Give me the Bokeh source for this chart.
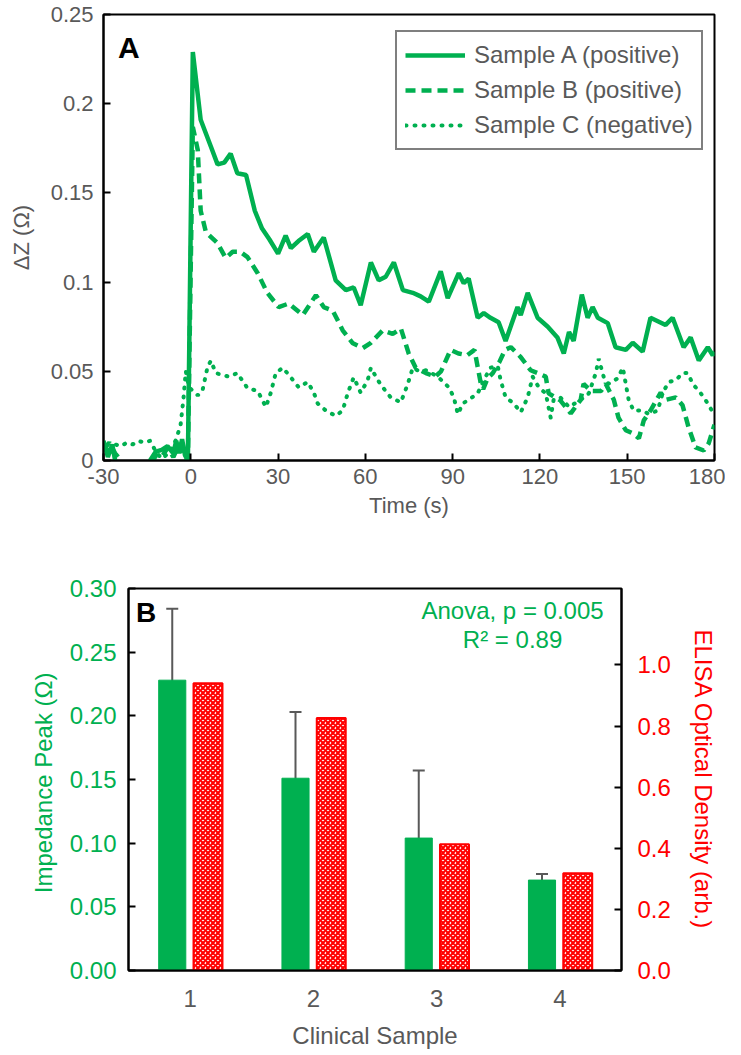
from bokeh.plotting import figure
from bokeh.models import (Range1d, LinearAxis, FixedTicker, Label, Whisker, TeeHead,
                          ColumnDataSource)
from bokeh.embed import file_html
from bokeh.resources import INLINE

GREEN = "#00B050"
RED = "#FF0000"
GRAY = "#595959"
FONT = "Liberation Sans"

# ---------------- Panel A data ----------------
t_a = [-30, -28.5, -27, -26, -24, -20, -16, -14, -12, -10, -8, -6, -5, -4, -3, -2, -1.0,
       0.7, 3.4, 6.9, 9.2, 11.5, 13.7, 16, 19, 22, 24.5, 27, 30, 32.6, 34.4, 37, 40.2, 42.3,
       45.7, 49.8, 53.3, 56, 58.4, 61.9, 64.6, 67, 69.8, 72.9, 76.3, 79, 81.8, 85.9, 88.3,
       92.1, 93.8, 95.5, 98.6, 100.7, 103, 105.8, 108.2, 112.3, 113.4, 115.8, 119.2, 122.7,
       126, 128.2, 130, 131.6, 134.4, 136.4, 138.1, 139.9, 143.3, 146, 149.5, 151.9, 155.3,
       158, 163.2, 165.6, 169.4, 171.8, 174.6, 177.7, 179.4, 180]
a_vals = [0.011, 0.002, 0.009, 0.0, -0.01, -0.015, -0.008, 0.0, 0.005, 0.006, 0.008, 0.004,
          0.011, 0.004, 0.012, 0.003, 0.0,
          0.229, 0.191, 0.176, 0.166, 0.167, 0.172, 0.161, 0.160, 0.140, 0.130, 0.124, 0.116,
          0.126, 0.119, 0.123, 0.127, 0.117, 0.125, 0.101, 0.0955, 0.097, 0.087, 0.111, 0.101,
          0.103, 0.111, 0.0955, 0.094, 0.092, 0.089, 0.106, 0.091, 0.105, 0.0994, 0.102, 0.080,
          0.0826, 0.080, 0.0775, 0.067, 0.086, 0.0815, 0.094, 0.080, 0.075, 0.069, 0.060, 0.072,
          0.067, 0.093, 0.080, 0.086, 0.080, 0.077, 0.0635, 0.062, 0.066, 0.061, 0.080, 0.076,
          0.080, 0.0635, 0.069, 0.056, 0.0635, 0.059, 0.061]

t_b = [-30, -28, -26, -24, -22, -18, -14, -12, -10, -8, -6, -4, -2, -1.0,
       0.7, 2.4, 3.4, 5.2, 9.1, 12, 14.4, 17, 19.5, 23, 26.3, 30.2, 33.7, 38.5, 43, 45.7, 48.8,
       52.2, 55.7, 59.1, 61.9, 66, 69.4, 72.2, 74.9, 77.3, 80.8, 84, 86, 89.3, 92, 95, 97.5,
       99.7, 100.5, 102, 103.8, 106, 108, 110, 113.4, 116.8, 119.2, 122, 123, 127, 130.6, 134,
       135, 137.5, 141, 142.6, 145.4, 147, 149.5, 151.9, 154, 155.7, 158, 161.5, 163.2, 166.7,
       169, 171.1, 173.5, 176.3, 178, 179.7, 180]
b_vals = [0.006, 0.010, 0.004, 0.0, -0.008, -0.01, -0.004, 0.003, 0.002, 0.007, 0.002, 0.009,
          0.002, 0.0,
          0.187, 0.174, 0.140, 0.128, 0.122, 0.1135, 0.117, 0.117, 0.114, 0.105, 0.094, 0.086,
          0.088, 0.0815, 0.0927, 0.086, 0.084, 0.073, 0.0657, 0.063, 0.066, 0.073, 0.071, 0.074,
          0.060, 0.052, 0.049, 0.047, 0.050, 0.062, 0.060, 0.059, 0.062, 0.043, 0.040, 0.046,
          0.049, 0.055, 0.062, 0.0635, 0.058, 0.0506, 0.049, 0.047, 0.0376, 0.0337, 0.0264,
          0.034, 0.043, 0.039, 0.039, 0.043, 0.034, 0.024, 0.017, 0.0152, 0.0124, 0.0225, 0.028,
          0.038, 0.034, 0.0354, 0.031, 0.0185, 0.0073, 0.0056, 0.0096, 0.0185, 0.020]

t_c = [-30, -28, -26, -24, -22, -20, -18, -16, -14, -12, -10, -7, -5, -3.5, -2.5, -1.7, -0.6,
       2.4, 4, 5.7, 6.9, 8.6, 13.1, 16, 19.5, 23, 25.8, 27.5, 29.2, 31.6, 33.7, 37.1, 40.2,
       42.3, 43.6, 46.4, 49.8, 52.2, 54, 56, 58.4, 60.8, 61.9, 64.3, 66, 68.7, 72.2, 74.6,
       76.3, 78.5, 80.8, 84.9, 88.7, 90.4, 91.8, 93.5, 95.5, 98.6, 100.7, 103, 105.5, 106.5,
       108.2, 111, 113.4, 115.8, 117.5, 119.6, 122, 123.7, 124.7, 127, 130, 134, 136.8, 139.2,
       140.2, 141.9, 143.6, 146.7, 148.5, 149.5, 150.5, 152.2, 155.3, 157.4, 160.5, 162.2,
       164.3, 166.7, 169, 170.8, 172.5, 175.3, 177.7, 179.4, 180]
c_vals = [0.010, 0.006, 0.009, 0.008, 0.010, 0.009, 0.011, 0.010, 0.011, 0.005, 0.001, 0.005,
          0.012, 0.020, 0.035, 0.050, 0.041,
          0.0365, 0.039, 0.052, 0.056, 0.049, 0.047, 0.049, 0.0405, 0.039, 0.030, 0.038, 0.049,
          0.052, 0.048, 0.041, 0.044, 0.038, 0.032, 0.028, 0.025, 0.028, 0.038, 0.0466, 0.038,
          0.045, 0.052, 0.045, 0.041, 0.0354, 0.0326, 0.043, 0.052, 0.050, 0.0506, 0.047, 0.041,
          0.0354, 0.026, 0.032, 0.034, 0.0376, 0.045, 0.052, 0.053, 0.045, 0.0354, 0.032, 0.027,
          0.0354, 0.047, 0.041, 0.0376, 0.024, 0.034, 0.0354, 0.030, 0.034, 0.0376, 0.049,
          0.057, 0.047, 0.043, 0.046, 0.052, 0.043, 0.034, 0.028, 0.028, 0.026, 0.028, 0.038,
          0.044, 0.045, 0.049, 0.049, 0.043, 0.0376, 0.032, 0.027, 0.026]

x_ticks_a = [-30, 0, 30, 60, 90, 120, 150, 180]
x_labels_a = ["-30", "0", "30", "60", "90", "120", "150", "180"]
y_ticks_a = [0, 0.05, 0.1, 0.15, 0.2, 0.25]
y_labels_a = ["0", "0.05", "0.1", "0.15", "0.2", "0.25"]

# ---------------- Panel B data ----------------
samples = [1, 2, 3, 4]
impedance = [0.228, 0.151, 0.104, 0.071]
impedance_err = [0.056, 0.052, 0.053, 0.0047]
elisa = [0.94, 0.826, 0.413, 0.318]
y_ticks_b = [0.0, 0.05, 0.10, 0.15, 0.20, 0.25, 0.30]
y_labels_b = ["0.00", "0.05", "0.10", "0.15", "0.20", "0.25", "0.30"]
y2_ticks_b = [0.0, 0.2, 0.4, 0.6, 0.8, 1.0]
y2_labels_b = ["0.0", "0.2", "0.4", "0.6", "0.8", "1.0"]


def style_axis(ax, color, size):
    ax.axis_line_color = "black"
    ax.axis_line_width = 2
    ax.major_tick_line_color = "black"
    ax.major_tick_line_width = 2
    ax.major_tick_in = 7
    ax.major_tick_out = 0
    ax.minor_tick_line_color = None
    ax.major_label_text_font = FONT
    ax.major_label_text_color = color
    ax.major_label_text_font_size = size
    ax.axis_label_text_font = FONT
    ax.axis_label_text_font_style = "normal"
    ax.axis_label_text_color = color
    ax.axis_label_text_font_size = size


# ---------------- Figure A ----------------
p1 = figure(width=725, height=520, x_range=Range1d(-30, 180), y_range=Range1d(0, 0.25),
            output_backend="svg", toolbar_location=None,
            min_border_left=103, min_border_right=11, min_border_top=14, min_border_bottom=60)
p1.grid.grid_line_color = None
p1.outline_line_color = "black"
p1.outline_line_width = 2
p1.background_fill_color = "white"

p1.line(t_a, a_vals, line_color=GREEN, line_width=4.5, legend_label="Sample A (positive)")
p1.line(t_b, b_vals, line_color=GREEN, line_width=4.5, line_dash="10 6",
        legend_label="Sample B (positive)")
p1.line(t_c, c_vals, line_color=GREEN, line_width=4, line_dash="1 8", line_cap="round",
        legend_label="Sample C (negative)")

p1.xaxis.ticker = FixedTicker(ticks=x_ticks_a)
p1.xaxis.major_label_overrides = {t: l for t, l in zip(x_ticks_a, x_labels_a)}
p1.yaxis.ticker = FixedTicker(ticks=y_ticks_a)
p1.yaxis.major_label_overrides = {t: l for t, l in zip(y_ticks_a, y_labels_a)}
p1.xaxis.axis_label = "Time (s)"
p1.yaxis.axis_label = "ΔZ (Ω)"
style_axis(p1.xaxis[0], GRAY, "22px")
style_axis(p1.yaxis[0], GRAY, "22px")
p1.xaxis.major_label_standoff = 8
p1.xaxis.axis_label_standoff = 6
p1.yaxis.major_label_standoff = 10
p1.yaxis.axis_label_standoff = 14

lg = p1.legend[0]
lg.location = (292, 310)
lg.padding = 8
lg.spacing = 5
lg.label_height = 30
lg.glyph_width = 60
lg.glyph_height = 20
lg.label_standoff = 9
lg.label_text_font = FONT
lg.label_text_font_size = "24px"
lg.label_text_color = GRAY
lg.border_line_color = "black"
lg.border_line_width = 2
lg.background_fill_alpha = 1.0

p1.add_layout(Label(x=-25, y=0.2405, text="A", text_font=FONT, text_font_style="bold",
                    text_font_size="30px", text_baseline="top", text_align="left",
                    text_color="black"))

# ---------------- Figure B ----------------
p2 = figure(width=725, height=531, x_range=Range1d(0.5, 4.5), y_range=Range1d(0, 0.30),
            output_backend="svg", toolbar_location=None,
            min_border_left=128, min_border_right=104, min_border_top=68, min_border_bottom=81)
p2.extra_y_ranges = {"elisa": Range1d(0, 1.25)}
p2.grid.grid_line_color = None
p2.outline_line_color = "black"
p2.outline_line_width = 2

xg = [s - 0.145 for s in samples]
xr = [s + 0.145 for s in samples]
src = ColumnDataSource(dict(xg=xg, xr=xr, imp=impedance, elisa=elisa,
                            up=[v + e for v, e in zip(impedance, impedance_err)],
                            lo=[v - e for v, e in zip(impedance, impedance_err)]))
p2.vbar(x="xg", top="imp", width=0.22, source=src, fill_color=GREEN, line_color=GREEN,
        line_width=1)
p2.vbar(x="xr", top="elisa", width=0.235, source=src, y_range_name="elisa",
        fill_color="white", hatch_pattern="x", hatch_color=RED, hatch_scale=5,
        hatch_weight=2.2, line_color=RED, line_width=2)
p2.add_layout(Whisker(source=src, base="xg", upper="up", lower="lo", line_color=GRAY,
                      line_width=2,
                      upper_head=TeeHead(size=12, line_color=GRAY, line_width=2),
                      lower_head=TeeHead(size=12, line_color=GRAY, line_width=2)))

p2.xaxis.ticker = FixedTicker(ticks=samples)
p2.yaxis.ticker = FixedTicker(ticks=y_ticks_b)
p2.yaxis.major_label_overrides = {t: l for t, l in zip(y_ticks_b, y_labels_b)}
p2.xaxis.axis_label = "Clinical Sample"
p2.yaxis.axis_label = "Impedance  Peak (Ω)"
style_axis(p2.xaxis[0], GRAY, "24px")
style_axis(p2.yaxis[0], GREEN, "24px")
p2.xaxis.major_tick_in = 0
p2.xaxis.major_label_standoff = 19
p2.xaxis.axis_label_standoff = 12
p2.yaxis.major_label_standoff = 12
p2.yaxis.axis_label_standoff = 10

ax2 = LinearAxis(y_range_name="elisa", ticker=FixedTicker(ticks=y2_ticks_b),
                 axis_label="ELISA Optical Density (arb.)")
ax2.major_label_overrides = {t: l for t, l in zip(y2_ticks_b, y2_labels_b)}
style_axis(ax2, RED, "24px")
ax2.major_label_standoff = 16
ax2.axis_label_standoff = 16
p2.add_layout(ax2, "right")

p2.add_layout(Label(x=0.56, y=0.293, text="B", text_font=FONT, text_font_style="bold",
                    text_font_size="28px", text_baseline="top", text_align="left",
                    text_color="black"))
p2.add_layout(Label(x=3.616, y=0.2827, text="Anova, p = 0.005", text_font=FONT,
                    text_font_size="24px", text_baseline="middle", text_align="center",
                    text_color=GREEN))
p2.add_layout(Label(x=3.616, y=0.26, text="R² = 0.89", text_font=FONT,
                    text_font_size="24px", text_baseline="middle", text_align="center",
                    text_color=GREEN))

open("out.html", "w").write(file_html([p1, p2], INLINE))
